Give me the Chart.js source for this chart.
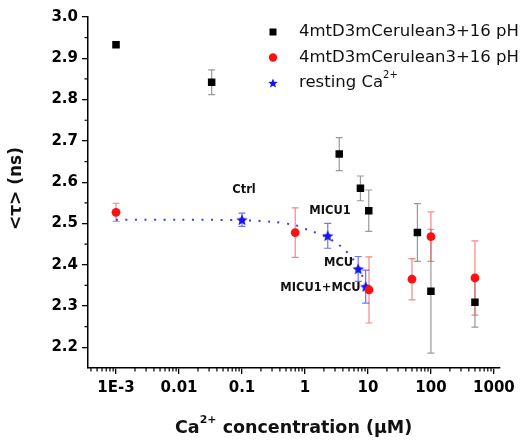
<!DOCTYPE html>
<html>
<head>
<meta charset="utf-8">
<script src="https://cdn.jsdelivr.net/npm/chart.js@4.4.0/dist/chart.umd.min.js"></script>
<style>
  html, body { margin: 0; padding: 0; background: #fff; }
</style>
</head>
<body>
<canvas id="chart" width="520" height="445"></canvas>
<script>
// Values (x: Ca2+ in uM, y: <tau> in ns)
const blackX = [0.001, 0.033, 3.5, 7.6, 10.3, 61, 100, 500];
const blackY = [2.933, 2.842, 2.668, 2.585, 2.531, 2.478, 2.336, 2.309];
const blackErr = [0.006, 0.03, 0.04, 0.03, 0.05, 0.07, 0.15, 0.06];

const redX = [0.001, 0.7, 10.4, 50, 100, 500];
const redY = [2.527, 2.478, 2.339, 2.365, 2.468, 2.368];
const redErr = [0.022, 0.06, 0.08, 0.05, 0.06, 0.09];

const restX = [0.1, 2.3, 7, 9.2];
const restY = [2.509, 2.470, 2.390, 2.347];
const restErr = [0.016, 0.03, 0.03, 0.04];

// dotted guide through the resting points
const fitX = [0.001, 0.01, 0.1, 0.3, 0.7, 1.1, 2, 3, 4.3, 6, 8, 9.5];
const fitY = [2.509, 2.509, 2.508, 2.504, 2.496, 2.485, 2.470, 2.455, 2.436, 2.41, 2.375, 2.35];

const seriesLabels = ['4mtD3mCerulean3+16 pH', '4mtD3mCerulean3+16 pH', 'resting Ca'];
const xTicks = [0.001, 0.01, 0.1, 1, 10, 100, 1000];
const xTickLabels = ['1E-3', '0.01', '0.1', '1', '10', '100', '1000'];
const yTicks = [2.2, 2.3, 2.4, 2.5, 2.6, 2.7, 2.8, 2.9, 3.0];
const pointNotes = ['Ctrl', 'MICU1', 'MCU', 'MICU1+MCU'];

const FONT = 'DejaVu Sans';
const BLUE = '#1515f0';

function toPoints(xs, ys) {
  return xs.map((x, i) => ({ x: x, y: ys[i] }));
}

// filled five-point star used as point style
function makeStar(r, color) {
  const c = document.createElement('canvas');
  const s = Math.ceil(r * 2 + 2);
  c.width = s;
  c.height = s;
  const g = c.getContext('2d');
  g.fillStyle = color;
  g.beginPath();
  for (let i = 0; i < 10; i++) {
    const rad = i % 2 ? r * 0.45 : r;
    const a = -Math.PI / 2 + i * Math.PI / 5;
    g.lineTo(s / 2 + rad * Math.cos(a), s / 2 + 0.5 + rad * Math.sin(a));
  }
  g.closePath();
  g.fill();
  return c;
}

const starPoint = makeStar(6, BLUE);
const starLegend = makeStar(5, BLUE);

// text with an optional superscript part
function drawRich(ctx, parts, x, y, size, weight, align) {
  const main = weight + ' ' + size + 'px "' + FONT + '"';
  const sup = weight + ' ' + Math.round(size * 0.6) + 'px "' + FONT + '"';
  let total = 0;
  parts.forEach(p => {
    ctx.font = p.sup ? sup : main;
    total += ctx.measureText(p.t).width;
  });
  let cx = align === 'center' ? x - total / 2 : x;
  ctx.textBaseline = 'middle';
  ctx.textAlign = 'left';
  parts.forEach(p => {
    ctx.font = p.sup ? sup : main;
    ctx.fillText(p.t, cx, p.sup ? y - size * 0.45 : y);
    cx += ctx.measureText(p.t).width;
  });
}

const errorBars = {
  id: 'errorBars',
  beforeDatasetsDraw(chart) {
    const ctx = chart.ctx;
    const xs = chart.scales.x, ys = chart.scales.y;
    const sets = [
      { x: blackX, y: blackY, e: blackErr, color: 'rgba(70,70,70,0.55)' },
      { x: redX, y: redY, e: redErr, color: 'rgba(240,70,70,0.65)' },
      { x: restX, y: restY, e: restErr, color: 'rgba(40,40,240,0.65)' }
    ];
    ctx.save();
    ctx.lineWidth = 1.2;
    sets.forEach(s => {
      ctx.strokeStyle = s.color;
      s.x.forEach((xv, i) => {
        const px = xs.getPixelForValue(xv);
        const top = ys.getPixelForValue(s.y[i] + s.e[i]);
        const bot = ys.getPixelForValue(s.y[i] - s.e[i]);
        ctx.beginPath();
        ctx.moveTo(px, top);
        ctx.lineTo(px, bot);
        ctx.moveTo(px - 3.5, top);
        ctx.lineTo(px + 3.5, top);
        ctx.moveTo(px - 3.5, bot);
        ctx.lineTo(px + 3.5, bot);
        ctx.stroke();
      });
    });
    ctx.restore();
  }
};

const decorations = {
  id: 'decorations',
  afterDraw(chart) {
    const ctx = chart.ctx;
    const xs = chart.scales.x, ys = chart.scales.y;
    const area = chart.chartArea;
    ctx.save();

    // minor ticks
    ctx.strokeStyle = '#000';
    ctx.lineWidth = 1.2;
    ctx.beginPath();
    for (let d = -4; d <= 3; d++) {
      for (let m = 2; m <= 9; m++) {
        const v = m * Math.pow(10, d);
        if (v < xs.min || v > xs.max) continue;
        const px = xs.getPixelForValue(v);
        ctx.moveTo(px, area.bottom);
        ctx.lineTo(px, area.bottom + 3.5);
      }
    }
    for (let k = 0; k < yTicks.length - 1; k++) {
      const py = ys.getPixelForValue((yTicks[k] + yTicks[k + 1]) / 2);
      ctx.moveTo(area.left, py);
      ctx.lineTo(area.left - 3.5, py);
    }
    ctx.stroke();

    // point notes
    ctx.fillStyle = '#111';
    ctx.font = 'bold 11.5px "' + FONT + '"';
    ctx.textBaseline = 'middle';
    const anchors = [
      { x: restX[0], y: restY[0], dx: 2, dy: -30, align: 'center' },
      { x: blackX[4], y: blackY[4], dx: -18, dy: 0, align: 'right' },
      { x: restX[2], y: restY[2], dx: -5, dy: -6, align: 'right' },
      { x: restX[3], y: restY[3], dx: -5, dy: 1, align: 'right' }
    ];
    pointNotes.forEach((t, i) => {
      const a = anchors[i];
      ctx.textAlign = a.align;
      ctx.fillText(t, xs.getPixelForValue(a.x) + a.dx, ys.getPixelForValue(a.y) + a.dy);
    });

    // legend
    const lx = 273, ly = 32, step = 25.5;
    ctx.fillStyle = '#000';
    ctx.fillRect(lx - 3.5, ly - 3.5, 7, 7);
    ctx.fillStyle = '#ff1010';
    ctx.beginPath();
    ctx.arc(lx, ly + step, 4.2, 0, Math.PI * 2);
    ctx.fill();
    ctx.drawImage(starLegend, lx - starLegend.width / 2, ly + 2 * step - starLegend.height / 2);
    ctx.fillStyle = '#111';
    drawRich(ctx, [{ t: seriesLabels[0] }], 299, ly, 16.5, 'normal', 'left');
    drawRich(ctx, [{ t: seriesLabels[1] }], 299, ly + step, 16.5, 'normal', 'left');
    drawRich(ctx, [{ t: seriesLabels[2] }, { t: '2+', sup: true }], 299, ly + 2 * step, 16.5, 'normal', 'left');

    // axis titles
    drawRich(ctx, [{ t: 'Ca' }, { t: '2+', sup: true }, { t: ' concentration (\u03bcM)' }],
      (area.left + area.right) / 2, 428, 17.5, 'bold', 'center');
    ctx.translate(17, (area.top + area.bottom) / 2 - 4);
    ctx.rotate(-Math.PI / 2);
    drawRich(ctx, [{ t: '<\u03c4> (ns)' }], 0, 0, 17, 'bold', 'center');

    ctx.restore();
  }
};

const tickFont = { family: FONT, size: 15, weight: 'bold' };

new Chart(document.getElementById('chart').getContext('2d'), {
  type: 'scatter',
  data: {
    datasets: [
      {
        label: seriesLabels[0],
        data: toPoints(blackX, blackY),
        pointStyle: 'rect',
        pointRadius: 5.3,
        backgroundColor: '#000',
        borderColor: '#000',
        borderWidth: 0
      },
      {
        label: seriesLabels[1],
        data: toPoints(redX, redY),
        pointStyle: 'circle',
        pointRadius: 4.4,
        backgroundColor: '#ff1010',
        borderColor: '#ff1010',
        borderWidth: 0
      },
      {
        label: seriesLabels[2],
        data: toPoints(restX, restY),
        pointStyle: starPoint,
        backgroundColor: BLUE,
        borderColor: BLUE
      },
      {
        label: 'fit',
        data: toPoints(fitX, fitY),
        showLine: true,
        pointRadius: 0,
        borderColor: 'rgba(40,40,245,0.9)',
        borderWidth: 2,
        borderDash: [2, 7.5],
        tension: 0.3,
        fill: false
      }
    ]
  },
  options: {
    responsive: false,
    animation: false,
    devicePixelRatio: 1,
    layout: { padding: { top: 17, right: 17, left: 0, bottom: 0 } },
    plugins: {
      legend: { display: false },
      tooltip: { enabled: false }
    },
    scales: {
      x: {
        type: 'logarithmic',
        min: 3.59e-4,
        max: 1216,
        afterBuildTicks: s => { s.ticks = xTicks.map(v => ({ value: v })); },
        afterFit: s => { s.height = 77; },
        ticks: {
          autoSkip: false,
          maxRotation: 0,
          color: '#000',
          padding: 5,
          font: tickFont,
          callback: (v, i) => xTickLabels[i]
        },
        grid: { drawOnChartArea: false, drawTicks: true, tickLength: 6, color: '#000', lineWidth: 1.3 },
        border: { display: true, color: '#000', width: 1.5 }
      },
      y: {
        min: 2.15,
        max: 3.0,
        afterBuildTicks: s => { s.ticks = yTicks.map(v => ({ value: v })); },
        afterFit: s => { s.width = 88; },
        ticks: {
          color: '#000',
          padding: 4,
          font: tickFont,
          callback: v => v.toFixed(1)
        },
        grid: { drawOnChartArea: false, drawTicks: true, tickLength: 6, color: '#000', lineWidth: 1.3 },
        border: { display: true, color: '#000', width: 1.5 }
      }
    }
  },
  plugins: [errorBars, decorations]
});
</script>
</body>
</html>
